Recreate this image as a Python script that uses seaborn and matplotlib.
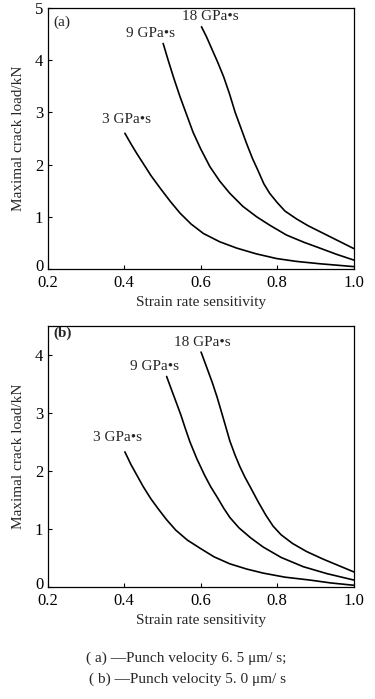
import matplotlib
matplotlib.use("Agg")
import matplotlib.pyplot as plt
import matplotlib.transforms as mtransforms
import seaborn as sns
import pandas as pd

# panel (a): punch velocity 6.5 um/s
a18_x = [0.602, 0.615, 0.63, 0.645, 0.66, 0.675, 0.69, 0.705, 0.72, 0.735,
         0.75, 0.765, 0.78, 0.80, 0.82, 0.85, 0.88, 0.91, 0.94, 0.97, 1.0]
a18_y = [4.64, 4.45, 4.20, 3.95, 3.68, 3.36, 3.00, 2.70, 2.40, 2.12,
         1.88, 1.63, 1.45, 1.27, 1.11, 0.96, 0.83, 0.72, 0.61, 0.50, 0.39]
a9_x = [0.502, 0.515, 0.53, 0.546, 0.56, 0.58, 0.60, 0.624, 0.65, 0.676,
        0.71, 0.746, 0.78, 0.824, 0.87, 0.911, 0.955, 1.0]
a9_y = [4.32, 4.00, 3.65, 3.30, 3.02, 2.62, 2.30, 1.96, 1.68, 1.45,
        1.20, 1.00, 0.84, 0.65, 0.51, 0.40, 0.28, 0.17]
a3_x = [0.402, 0.42, 0.435, 0.45, 0.47, 0.494, 0.52, 0.546, 0.575, 0.607,
        0.65, 0.694, 0.745, 0.798, 0.85, 0.911, 0.96, 1.0]
a3_y = [2.60, 2.37, 2.19, 2.02, 1.79, 1.55, 1.30, 1.07, 0.86, 0.68,
        0.52, 0.40, 0.29, 0.20, 0.145, 0.10, 0.07, 0.045]

# panel (b): punch velocity 5.0 um/s
b18_x = [0.601, 0.615, 0.63, 0.643, 0.655, 0.666, 0.676, 0.69, 0.702, 0.715,
         0.729, 0.75, 0.77, 0.789, 0.81, 0.84, 0.877, 0.92, 0.96, 1.0]
b18_y = [4.05, 3.80, 3.53, 3.27, 3.00, 2.75, 2.52, 2.27, 2.08, 1.90,
         1.73, 1.47, 1.24, 1.05, 0.90, 0.75, 0.61, 0.48, 0.37, 0.26]
b9_x = [0.511, 0.525, 0.538, 0.548, 0.56, 0.572, 0.59, 0.61, 0.626, 0.642,
        0.66, 0.676, 0.70, 0.73, 0.763, 0.81, 0.868, 0.93, 1.0]
b9_y = [3.63, 3.38, 3.15, 2.97, 2.73, 2.50, 2.21, 1.93, 1.73, 1.56,
        1.36, 1.20, 1.02, 0.85, 0.69, 0.51, 0.35, 0.23, 0.12]
b3_x = [0.402, 0.418, 0.434, 0.45, 0.47, 0.49, 0.511, 0.535, 0.565, 0.598,
        0.635, 0.676, 0.72, 0.763, 0.82, 0.885, 0.94, 1.0]
b3_y = [2.33, 2.11, 1.92, 1.73, 1.52, 1.34, 1.16, 0.98, 0.81, 0.67,
        0.52, 0.40, 0.31, 0.24, 0.17, 0.12, 0.07, 0.03]

series_labels = ["18 GPa\u2022s", "9 GPa\u2022s", "3 GPa\u2022s"]
x_ticks = [0.2, 0.4, 0.6, 0.8, 1.0]
x_ticklabels = ["0.2", "0.4", "0.6", "0.8", "1.0"]

sns.set_theme(style="ticks")
plt.rcParams["font.family"] = ["Liberation Serif", "DejaVu Serif"]
plt.rcParams["xtick.direction"] = "in"
plt.rcParams["ytick.direction"] = "in"


def make_frame(xs, ys):
    parts = []
    for lab, x, y in zip(series_labels, xs, ys):
        parts.append(pd.DataFrame({"x": x, "y": y, "s": lab}))
    return pd.concat(parts, ignore_index=True)


def draw_panel(fig, ax, df, ymax, yticks, tag, tag_y, label_pos):
    sns.lineplot(data=df, x="x", y="y", hue="s", units="s", estimator=None,
                 sort=False, palette=["black"] * 3, linewidth=1.2,
                 legend=False, ax=ax)
    ax.set_xlim(0.2, 1.0)
    ax.set_ylim(0, ymax)
    ax.set_xticks(x_ticks)
    ax.set_xticklabels(x_ticklabels)
    ax.set_yticks(yticks)
    ax.set_yticklabels([str(t) for t in yticks])
    ax.tick_params(labelsize=12, length=3, width=0.8, colors="black")
    ax.tick_params(axis="x", pad=4)
    ax.tick_params(axis="y", pad=3)
    # the "0" sits a little above the corner, clear of "0.2"
    lab0 = ax.get_yticklabels()[0]
    lab0.set_transform(lab0.get_transform() +
                       mtransforms.ScaledTranslation(0, 3 / 72, fig.dpi_scale_trans))
    for sp in ax.spines.values():
        sp.set_linewidth(0.9)
        sp.set_color("black")
    ax.set_xlabel("Strain rate sensitivity", fontsize=11, labelpad=4)
    ax.set_ylabel("Maximal crack load/kN", fontsize=11, labelpad=7)
    ax.text(0.215, tag_y, tag, fontsize=11, va="center", ha="left")
    for lab, (tx, ty) in zip(series_labels, label_pos):
        ax.text(tx, ty, lab, fontsize=11, va="center", ha="left")


fig = plt.figure(figsize=(3.75, 6.99), dpi=100)
ax_a = fig.add_axes([0.1267, 0.6152, 0.817, 0.3734])
ax_b = fig.add_axes([0.1267, 0.1602, 0.817, 0.3734])

draw_panel(fig, ax_a, make_frame([a18_x, a9_x, a3_x], [a18_y, a9_y, a3_y]),
           5, [0, 1, 2, 3, 4, 5], "(a)", 4.73,
           [(0.551, 4.83), (0.405, 4.52), (0.342, 2.87)])
draw_panel(fig, ax_b, make_frame([b18_x, b9_x, b3_x], [b18_y, b9_y, b3_y]),
           4.5, [0, 1, 2, 3, 4], "(b)", 4.38,
           [(0.531, 4.21), (0.415, 3.81), (0.319, 2.57)])
ax_b.texts[0].set_fontweight("bold")

fig.text(0.497, 1 - 658 / 699, "( a) \u2014Punch velocity 6. 5 \u03bcm/ s;",
         fontsize=11, ha="center", va="center")
fig.text(0.501, 1 - 679 / 699, "( b) \u2014Punch velocity 5. 0 \u03bcm/ s",
         fontsize=11, ha="center", va="center")

fig.savefig("out.png", dpi=100)
